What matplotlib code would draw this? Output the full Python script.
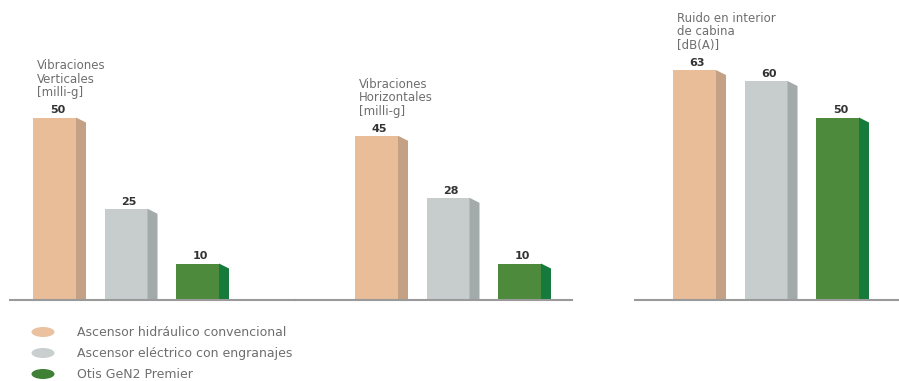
import numpy as np
import matplotlib
matplotlib.use("Agg")
import matplotlib.pyplot as plt
from matplotlib.patches import Polygon, Ellipse

# data
series = ["Ascensor hidráulico convencional",
          "Ascensor eléctrico con engranajes",
          "Otis GeN2 Premier"]
titles = ["Vibraciones\nVerticales\n[milli-g]",
          "Vibraciones\nHorizontales\n[milli-g]",
          "Ruido en interior\nde cabina\n[dB(A)]"]
vert_vals = [50, 25, 10]
horiz_vals = [45, 28, 10]
noise_vals = [63, 60, 50]

front_cols = ["#E8BD98", "#C6CDCC", "#4D8A3B"]
side_cols = ["#C4A184", "#A3ABAA", "#157A3B"]
legend_cols = ["#EAC29F", "#C9CFCF", "#3E8034"]
txt_col = "#6E6E6E"

W, H = 899, 381
PX = 3.65          # pixels per unit on the value axis
BASE = 300         # baseline, px from top
fig = plt.figure(figsize=(W / 100, H / 100), dpi=100)
plt.rcParams['font.family'] = ['DejaVu Sans']

# (left px, right px, first bar offset px)
panels = [(10, 295, 23, vert_vals),
          (295, 572, 60, horiz_vals),
          (635, 899, 38, noise_vals)]

bar_w, side_w, spacing = 43, 10, 71.5
slant = 5 / PX

for (l, r, off, vals), title in zip(panels, titles):
    ax = fig.add_axes([l / W, (H - BASE) / H, (r - l) / W, BASE / H])
    ax.set_xlim(0, r - l)
    ax.set_ylim(0, BASE / PX)
    xs = off + np.arange(len(vals)) * spacing
    ax.bar(xs, vals, width=bar_w, align='edge', color=front_cols, linewidth=0)
    for x, v, sc in zip(xs, vals, side_cols):
        ax.add_patch(Polygon([(x + bar_w, v), (x + bar_w + side_w, v - slant),
                              (x + bar_w + side_w, 0), (x + bar_w, 0)],
                             closed=True, color=sc, linewidth=0))
        ax.annotate(str(v), (x + bar_w / 2 + 3, v), xytext=(0, 1.5),
                    textcoords='offset points', ha='center', va='bottom',
                    fontsize=8, fontweight='bold', color='#333333')
    ax.annotate(title, (xs[0] + 4, max(vals)), xytext=(0, 13),
                textcoords='offset points', ha='left', va='bottom',
                fontsize=8.5, color=txt_col, linespacing=1.05)
    for s in ['top', 'right', 'left']:
        ax.spines[s].set_visible(False)
    ax.spines['bottom'].set_color('#9A9A9A')
    ax.spines['bottom'].set_linewidth(1.5)
    ax.set_xticks([])
    ax.set_yticks([])
    ax.patch.set_alpha(0)

# legend drawn in its own pixel-scaled axes
lax = fig.add_axes([0, 0, 1, 1])
lax.set_xlim(0, W)
lax.set_ylim(H, 0)
lax.axis('off')
lax.patch.set_alpha(0)
for i, (name, c) in enumerate(zip(series, legend_cols)):
    y = 332 + i * 21
    lax.add_patch(Ellipse((43, y), 23, 10, color=c, linewidth=0))
    lax.text(77, y, name, ha='left', va='center', fontsize=9, color=txt_col)

fig.savefig("out.png", dpi=100)
